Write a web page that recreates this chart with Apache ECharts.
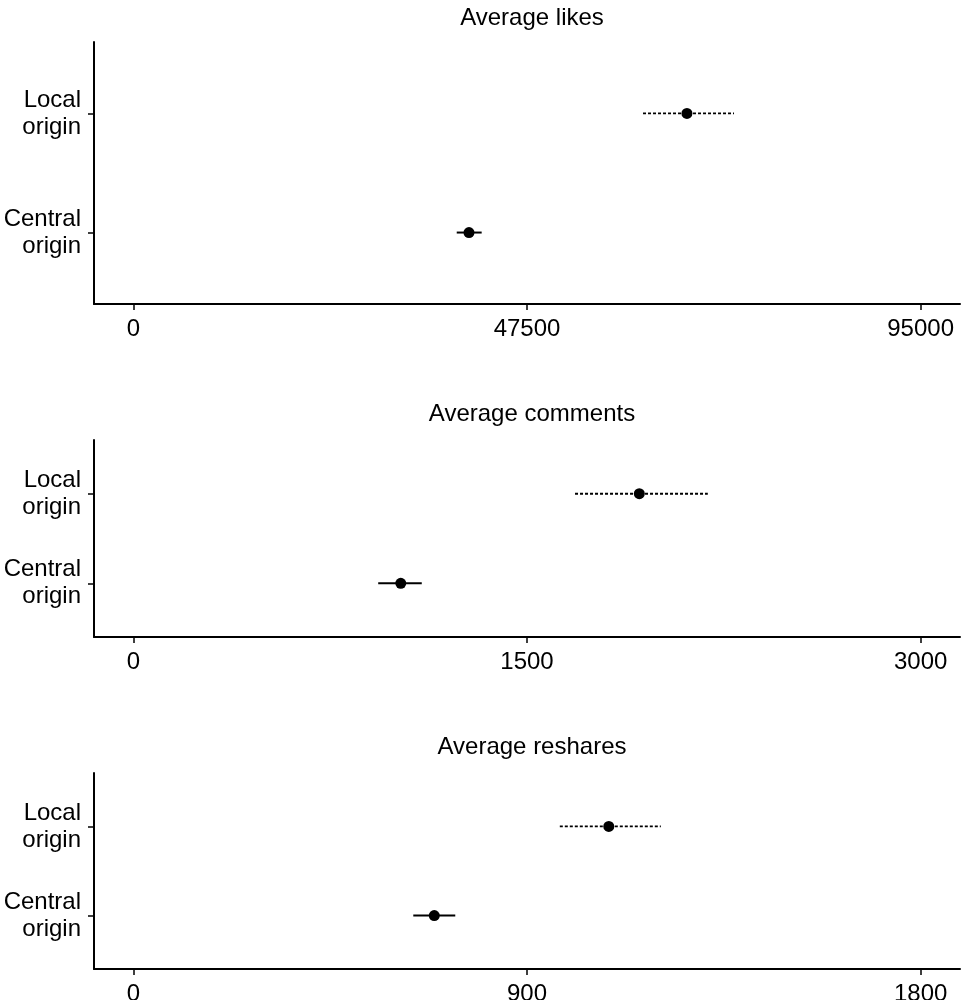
<!DOCTYPE html>
<html lang="en">
<head>
    <meta charset="UTF-8">
    <title>Average engagement by origin</title>
    <script src="https://cdn.jsdelivr.net/npm/echarts@6/dist/echarts.min.js"></script>
    <style>
        html, body { margin: 0; padding: 0; background: #fff; }
        #main { width: 962px; height: 1000px; }
    </style>
</head>
<body>
<div id="main"></div>
<script type="text/javascript">

    // categories, bottom to top
    var categories = ['Central origin', 'Local origin'];

    var panelTitles = ['Average likes', 'Average comments', 'Average reshares'];
    var axisMax = [95000, 3000, 1800];
    var tickValues = [
        [0, 47500, 95000],
        [0, 1500, 3000],
        [0, 900, 1800]
    ];

    // mean and interval ends, same order as categories
    var likesMean = [40500, 66800];
    var likesLow = [39020, 61500];
    var likesHigh = [42030, 72480];

    var commentsMean = [1019, 1928];
    var commentsLow = [933, 1683];
    var commentsHigh = [1099, 2189];

    var resharesMean = [688, 1087];
    var resharesLow = [640, 975];
    var resharesHigh = [736, 1206];

    var means = [likesMean, commentsMean, resharesMean];
    var lows = [likesLow, commentsLow, resharesLow];
    var highs = [likesHigh, commentsHigh, resharesHigh];

    // panel placement (px)
    var gridTops = [42, 440, 773];
    var gridHeights = [262, 197, 196];
    var titleTops = [1, 397, 730];

    var font = 'Liberation Sans, Arial, Helvetica, sans-serif';

    var option = {
        backgroundColor: '#fff',
        animation: false,
        title: [],
        grid: [],
        xAxis: [],
        yAxis: [],
        series: []
    };

    for (var i = 0; i < 3; i++) {
        var R = axisMax[i];
        option.title.push({
            text: panelTitles[i],
            left: 527,
            top: titleTops[i],
            textAlign: 'center',
            textStyle: {fontFamily: font, fontSize: 24, fontWeight: 'normal', color: '#000'}
        });
        option.grid.push({
            left: 94,
            right: 2,
            top: gridTops[i],
            height: gridHeights[i],
            outerBoundsMode: 'none'
        });
        option.xAxis.push({
            type: 'value',
            gridIndex: i,
            min: -0.05 * R,
            max: 1.05 * R,
            splitLine: {show: false},
            axisLine: {show: true, onZero: false, lineStyle: {color: '#000', width: 2}},
            axisTick: {show: true, length: 6, customValues: tickValues[i], lineStyle: {color: '#000', width: 1.5}},
            axisLabel: {
                customValues: tickValues[i],
                margin: 13,
                fontFamily: font,
                fontSize: 24,
                color: '#000',
                formatter: function (v) {
                    return String(v);
                }
            }
        });
        option.yAxis.push({
            type: 'value',
            gridIndex: i,
            min: 0.4,
            max: 2.6,
            splitLine: {show: false},
            axisLine: {show: true, onZero: false, lineStyle: {color: '#000', width: 2}},
            axisTick: {show: true, length: 6, customValues: [1, 2], lineStyle: {color: '#000', width: 1.5}},
            axisLabel: {
                customValues: [1, 2],
                margin: 13,
                fontFamily: font,
                fontSize: 24,
                lineHeight: 27,
                color: '#000',
                formatter: function (v) {
                    var name = categories[Math.round(v) - 1];
                    return name ? name.replace(' ', '\n') : '';
                }
            }
        });

        var barData = [], dotData = [];
        for (var k = 0; k < categories.length; k++) {
            barData.push([lows[i][k], highs[i][k], k + 1]);
            dotData.push([means[i][k], k + 1]);
        }

        option.series.push({
            type: 'custom',
            xAxisIndex: i,
            yAxisIndex: i,
            encode: {x: [0, 1], y: 2},
            data: barData,
            z: 2,
            renderItem: function (params, api) {
                var p1 = api.coord([api.value(0), api.value(2)]);
                var p2 = api.coord([api.value(1), api.value(2)]);
                // local origin interval is dotted
                var dotted = categories[api.value(2) - 1] === 'Local origin';
                return {
                    type: 'line',
                    shape: {x1: p1[0], y1: p1[1], x2: p2[0], y2: p2[1]},
                    style: {stroke: '#000', lineWidth: dotted ? 1.8 : 2, lineDash: dotted ? [3, 2] : null}
                };
            }
        });
        option.series.push({
            type: 'scatter',
            xAxisIndex: i,
            yAxisIndex: i,
            data: dotData,
            symbol: 'circle',
            symbolSize: 11,
            itemStyle: {color: '#000', opacity: 1},
            z: 3
        });
    }

    var myChart = echarts.init(document.getElementById('main'));
    myChart.setOption(option);
</script>
</body>
</html>
